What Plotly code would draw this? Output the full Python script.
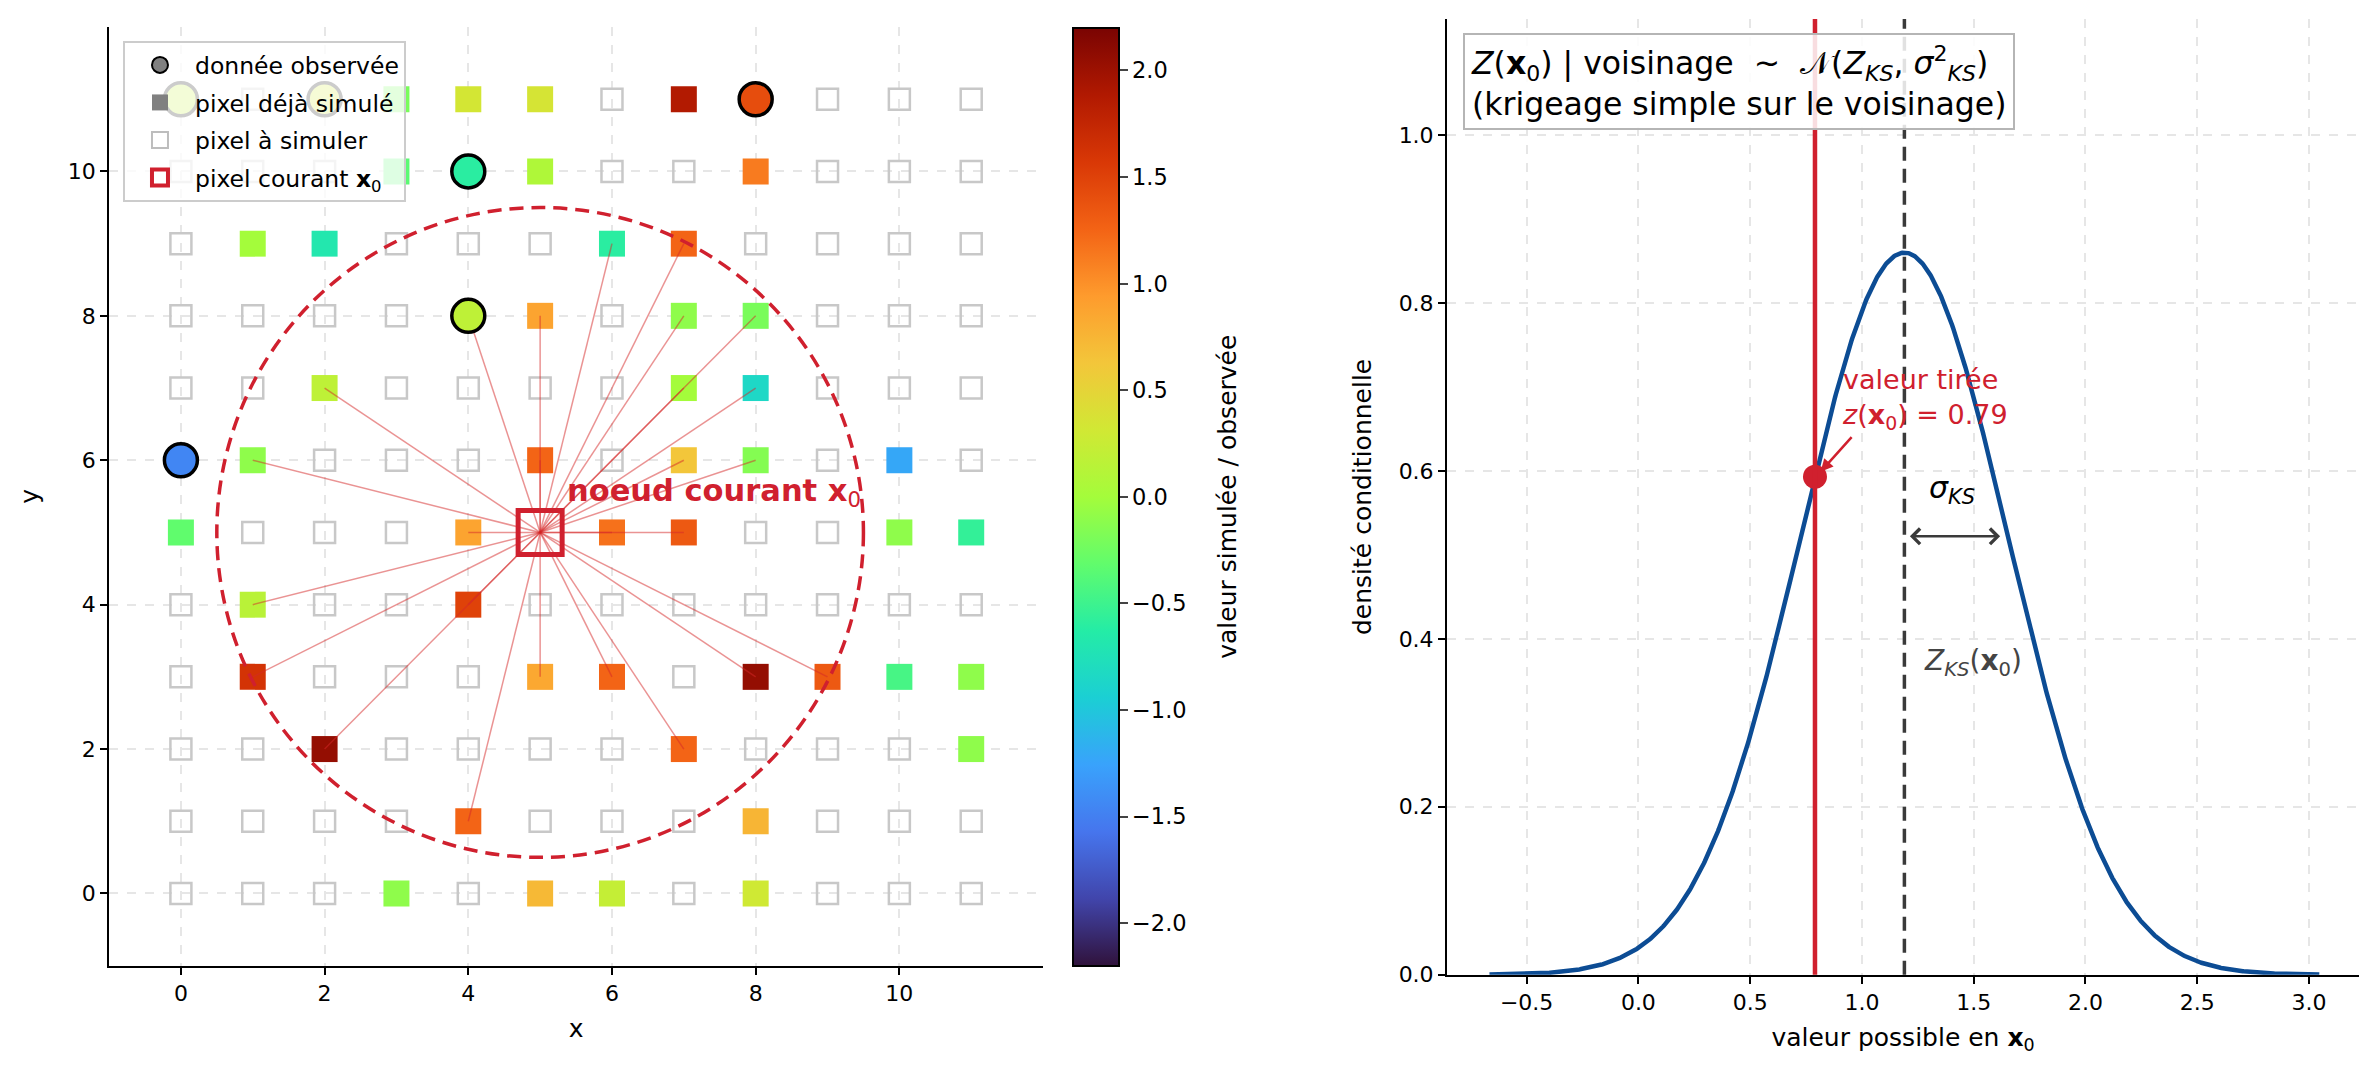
import numpy as np
import plotly.graph_objects as go

# grille 12 x 12, noeud courant et voisinage
grid_n = 12
x0_node = (5, 5)
radius = 4.5

# données observées (x, y, valeur)
obs_x = [0, 2, 8, 4, 4, 0]
obs_y = [11, 11, 11, 10, 8, 6]
obs_v = [0.20, 0.30, 1.42, -0.60, 0.18, -1.45]

# pixels déjà simulés (x, y, valeur)
sim_x = [3, 4, 5, 7,
         3, 5, 8,
         1, 2, 6, 7,
         5, 7, 8,
         2, 7, 8,
         1, 5, 7, 8, 10,
         0, 4, 6, 7, 10, 11,
         1, 4,
         1, 5, 6, 8, 9, 10, 11,
         2, 7, 11,
         4, 8,
         3, 5, 6, 8]
sim_y = [11, 11, 11, 11,
         10, 10, 10,
         9, 9, 9, 9,
         8, 8, 8,
         7, 7, 7,
         6, 6, 6, 6, 6,
         5, 5, 5, 5, 5, 5,
         4, 4,
         3, 3, 3, 3, 3, 3, 3,
         2, 2, 2,
         1, 1,
         0, 0, 0, 0]
sim_v = [-0.20, 0.33, 0.35, 1.88,
         -0.35, 0.08, 1.12,
         0.0, -0.68, -0.60, 1.25,
         0.88, -0.10, -0.20,
         0.18, 0.0, -0.85,
         -0.10, 1.25, 0.63, -0.15, -1.22,
         -0.32, 0.88, 1.18, 1.33, -0.10, -0.55,
         0.15, 1.50,
         1.62, 0.85, 1.25, 2.05, 1.33, -0.45, -0.10,
         2.05, 1.25, -0.10,
         1.25, 0.75,
         -0.10, 0.72, 0.22, 0.30]

# krigeage simple au noeud courant
mu_ks = 1.19
sigma_ks = 0.464
z_drawn = 0.79

RED = "#d0202e"
FONT = "DejaVu Sans"

known = set(zip(obs_x, obs_y)) | set(zip(sim_x, sim_y)) | {x0_node}
todo = [(i, j) for j in range(grid_n) for i in range(grid_n) if (i, j) not in known]

# liens vers les voisins
lx, ly = [], []
for xs, ys in ((obs_x, obs_y), (sim_x, sim_y)):
    for i, j in zip(xs, ys):
        if np.hypot(i - x0_node[0], j - x0_node[1]) <= radius:
            lx += [x0_node[0], i, None]
            ly += [x0_node[1], j, None]

fig = go.Figure()

# entrées de légende
fig.add_trace(go.Scatter(x=[None], y=[None], mode="markers", name="donnée observée",
                         legendgroup="a",
                         marker=dict(symbol="circle", size=16, color="grey",
                                     line=dict(color="black", width=2))))
fig.add_trace(go.Scatter(x=[None], y=[None], mode="markers", name="pixel déjà simulé",
                         legendgroup="b",
                         marker=dict(symbol="square", size=16, color="grey")))
fig.add_trace(go.Scatter(x=[None], y=[None], mode="markers", name="pixel à simuler",
                         legendgroup="c",
                         marker=dict(symbol="square-open", size=16, color="#bdbdbd",
                                     line=dict(width=2))))
fig.add_trace(go.Scatter(x=[None], y=[None], mode="markers", name="pixel courant <b>x</b><sub>0</sub>",
                         legendgroup="d",
                         marker=dict(symbol="square-open", size=16, color=RED,
                                     line=dict(width=4))))

fig.add_trace(go.Scatter(x=[p[0] for p in todo], y=[p[1] for p in todo], mode="markers",
                         showlegend=False, hoverinfo="skip",
                         marker=dict(symbol="square-open", size=21, color="#c8c8c8",
                                     line=dict(width=2.5))))
fig.add_trace(go.Scatter(x=sim_x, y=sim_y, mode="markers", showlegend=False,
                         marker=dict(symbol="square", size=26, color=sim_v,
                                     coloraxis="coloraxis")))
fig.add_trace(go.Scatter(x=lx, y=ly, mode="lines", showlegend=False, hoverinfo="skip",
                         line=dict(color="rgba(214,39,40,0.5)", width=1.5)))
fig.add_trace(go.Scatter(x=obs_x, y=obs_y, mode="markers", showlegend=False,
                         marker=dict(symbol="circle", size=33, color=obs_v,
                                     coloraxis="coloraxis",
                                     line=dict(color="black", width=3.5))))
fig.add_trace(go.Scatter(x=[x0_node[0]], y=[x0_node[1]], mode="markers", showlegend=False,
                         marker=dict(symbol="square-open", size=44, color=RED,
                                     line=dict(width=5))))

# densité conditionnelle
zz = np.linspace(mu_ks - 4 * sigma_ks, mu_ks + 4 * sigma_ks, 1000)
dens = np.exp(-0.5 * ((zz - mu_ks) / sigma_ks) ** 2) / (sigma_ks * np.sqrt(2 * np.pi))
f_drawn = np.exp(-0.5 * ((z_drawn - mu_ks) / sigma_ks) ** 2) / (sigma_ks * np.sqrt(2 * np.pi))

fig.add_trace(go.Scatter(x=zz, y=dens, mode="lines", showlegend=False,
                         line=dict(color="#0c4c94", width=4.5), xaxis="x2", yaxis="y2"))
fig.add_trace(go.Scatter(x=[z_drawn], y=[f_drawn], mode="markers", showlegend=False,
                         marker=dict(size=24, color=RED), xaxis="x2", yaxis="y2"))

shapes = [
    dict(type="circle", xref="x", yref="y",
         x0=x0_node[0] - radius, x1=x0_node[0] + radius,
         y0=x0_node[1] - radius, y1=x0_node[1] + radius,
         line=dict(color=RED, width=3.5, dash="14px,8px")),
    dict(type="line", xref="x2", yref="y2 domain", x0=z_drawn, x1=z_drawn, y0=0, y1=1,
         line=dict(color=RED, width=4.5)),
    dict(type="line", xref="x2", yref="y2 domain", x0=mu_ks, x1=mu_ks, y0=0, y1=1,
         line=dict(color="#3a3a3a", width=3.5, dash="14px,8px")),
]

annotations = [
    dict(x=5.35, y=5.55, xref="x", yref="y", xanchor="left", yanchor="middle",
         text="<b>noeud courant x</b><sub>0</sub>", showarrow=False,
         font=dict(size=30.5, color=RED, family=FONT)),
    dict(x=0.018, y=0.985, xref="x2 domain", yref="y2 domain", xanchor="left", yanchor="top",
         align="left", showarrow=False,
         text="<i>Z</i>(<b>x</b><sub>0</sub>) | voisinage  ~  𝒩(<i>Z</i><sub><i>KS</i></sub>, "
              "<i>σ</i><sup>2</sup><sub><i>KS</i></sub>)<br>(krigeage simple sur le voisinage)",
         font=dict(size=31.5, color="black", family=FONT),
         bgcolor="rgba(255,255,255,0.85)", bordercolor="#b5b5b5", borderwidth=2, borderpad=6),
    dict(x=0.90, y=0.685, xref="x2", yref="y2", xanchor="left", yanchor="middle",
         align="left", showarrow=False,
         text="valeur tirée<br><i>z</i>(<b>x</b><sub>0</sub>) = %.2f" % z_drawn,
         font=dict(size=27, color=RED, family=FONT)),
    dict(x=z_drawn + 0.025, y=f_drawn + 0.006, xref="x2", yref="y2",
         ax=0.96, ay=0.642, axref="x2", ayref="y2", text="", showarrow=True,
         arrowhead=2, arrowsize=1, arrowwidth=2.5, arrowcolor=RED),
    dict(x=mu_ks + sigma_ks, y=0.522, xref="x2", yref="y2",
         ax=mu_ks, ay=0.522, axref="x2", ayref="y2", text="", showarrow=True,
         arrowhead=4, startarrowhead=4, arrowside="end+start", arrowsize=1.2,
         standoff=8, startstandoff=4,
         arrowwidth=2.5, arrowcolor="#3a3a3a"),
    dict(x=mu_ks + sigma_ks / 2 - 0.02, y=0.578, xref="x2", yref="y2", showarrow=False,
         text="<i>σ</i><sub><i>KS</i></sub>", font=dict(size=30, color="black", family=FONT)),
    dict(x=1.27, y=0.372, xref="x2", yref="y2", xanchor="left", showarrow=False,
         text="<i>Z</i><sub><i>KS</i></sub>(<b>x</b><sub>0</sub>)",
         font=dict(size=28, color="#444444", family=FONT)),
    dict(x=0.5167, y=0.5423, xref="paper", yref="paper", showarrow=False, textangle=-90,
         text="valeur simulée / observée", font=dict(size=25, color="black", family=FONT)),
]

axis_common = dict(showline=True, linecolor="black", linewidth=2, mirror=False,
                   ticks="outside", ticklen=7, tickwidth=2, tickcolor="black",
                   showgrid=True, gridcolor="#e6e6e6", gridwidth=1.5, griddash="dash",
                   zeroline=False, tickfont=dict(size=22, family=FONT, color="black"))

# la page garde sa marge de 8 px autour de la figure
fig.update_layout(
    width=2361, height=1081, autosize=False,
    margin=dict(l=0, r=0, t=0, b=0),
    paper_bgcolor="white", plot_bgcolor="white",
    font=dict(family=FONT, size=22, color="black"),
    xaxis=dict(axis_common, domain=[0.0428, 0.4384], range=[-1, 12],
               tickvals=[0, 2, 4, 6, 8, 10],
               title=dict(text="x", font=dict(size=25), standoff=14)),
    yaxis=dict(axis_common, domain=[0.1033, 0.9822], range=[-1, 12],
               tickvals=[0, 2, 4, 6, 8, 10],
               title=dict(text="y", font=dict(size=25), standoff=22)),
    xaxis2=dict(axis_common, domain=[0.6095, 0.9958], range=[-0.856, 3.224],
                anchor="y2", dtick=0.5, tickformat=".1f",
                title=dict(text="valeur possible en <b>x</b><sub>0</sub>", font=dict(size=25),
                           standoff=14)),
    yaxis2=dict(axis_common, domain=[0.0948, 0.9897], range=[0, 1.138],
                anchor="x2", dtick=0.2, tickformat=".1f",
                title=dict(text="densité conditionnelle", font=dict(size=25), standoff=20)),
    coloraxis=dict(colorscale="Turbo", cmin=-2.2, cmax=2.2,
                   colorbar=dict(x=0.4511, xanchor="left", xref="paper",
                                 y=0.5423, yanchor="middle", xpad=0, ypad=0,
                                 thickness=46, thicknessmode="pixels",
                                 len=938, lenmode="pixels",
                                 outlinewidth=2, outlinecolor="black",
                                 ticks="outside", ticklen=8, tickwidth=2,
                                 tickvals=[-2, -1.5, -1, -0.5, 0, 0.5, 1, 1.5, 2],
                                 tickformat=".1f", tickfont=dict(size=22.5))),
    legend=dict(x=0.0487, y=0.969, xanchor="left", yanchor="top",
                bgcolor="rgba(255,255,255,0.8)", bordercolor="#cccccc", borderwidth=2,
                font=dict(size=23.5), itemwidth=60, tracegroupgap=4),
    shapes=shapes,
    annotations=annotations,
)

fig.write_html("out.html", config={"displayModeBar": False})
